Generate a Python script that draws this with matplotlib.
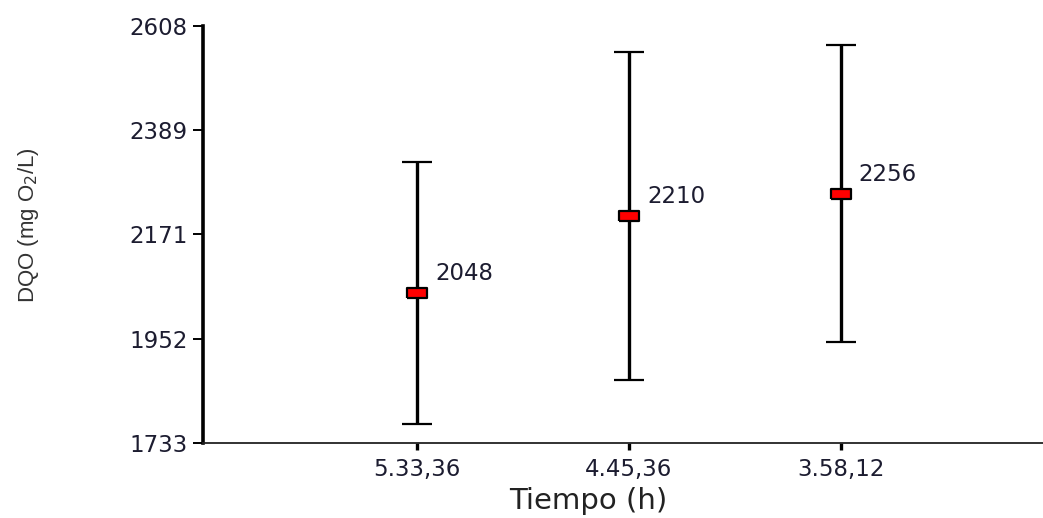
import matplotlib
matplotlib.use("Agg")
import matplotlib.pyplot as plt

# datos: DQO media y desviacion por tiempo
tiempos = ["5.33,36", "4.45,36", "3.58,12"]
dqo_media = [2048, 2210, 2256]
dqo_error = [275, 344, 312]
y_ticks = [1733, 1952, 2171, 2389, 2608]

plt.rcParams['font.family'] = ['DejaVu Sans']

fig = plt.figure(figsize=(10.43, 5.18), dpi=100)
ax = fig.add_axes([0.1946, 0.1448, 0.8054, 0.8052])

x = list(range(1, len(tiempos) + 1))

# marcador rectangular rojo (mas ancho que alto)
rect = [(-1, -0.5), (1, -0.5), (1, 0.5), (-1, 0.5), (-1, -0.5)]

ax.errorbar(x, dqo_media, yerr=dqo_error, fmt='none', ecolor='black',
            elinewidth=2.4, capsize=11, capthick=1.6, zorder=2)
ax.plot(x, dqo_media, linestyle='none', marker=rect, markersize=14,
        markerfacecolor='#ff0000', markeredgecolor='black',
        markeredgewidth=1.6, zorder=3)

for xi, v in zip(x, dqo_media):
    ax.annotate(str(v), (xi, v), xytext=(13, 14), textcoords='offset points',
                ha='left', va='center', fontsize=16.5, color='#1c1c30')

ax.set_xlim(-0.012, 3.955)
ax.set_ylim(y_ticks[0], y_ticks[-1])
ax.set_xticks(x)
ax.set_xticklabels(tiempos)
ax.set_yticks(y_ticks)

ax.spines['top'].set_visible(False)
ax.spines['right'].set_visible(False)
ax.spines['left'].set_linewidth(2.6)
ax.spines['bottom'].set_linewidth(1.3)
ax.spines['bottom'].set_color('#222222')

ax.tick_params(axis='y', direction='out', length=7, width=1.4,
               labelsize=16.5, labelcolor='#1c1c30', pad=4)
ax.tick_params(axis='x', direction='out', length=5, width=2.4,
               labelsize=16.5, labelcolor='#1c1c30', pad=6)

ax.set_xlabel('Tiempo (h)', fontsize=21, color='#222222')
ax.xaxis.set_label_coords((588 - 203) / 840, -0.105)
fig.text(0.027, 0.565, 'DQO (mg O$_2$/L)', rotation=90, ha='center',
         va='center', fontsize=16, color='#333333', family='Liberation Sans')

fig.savefig('out.png', dpi=100)
